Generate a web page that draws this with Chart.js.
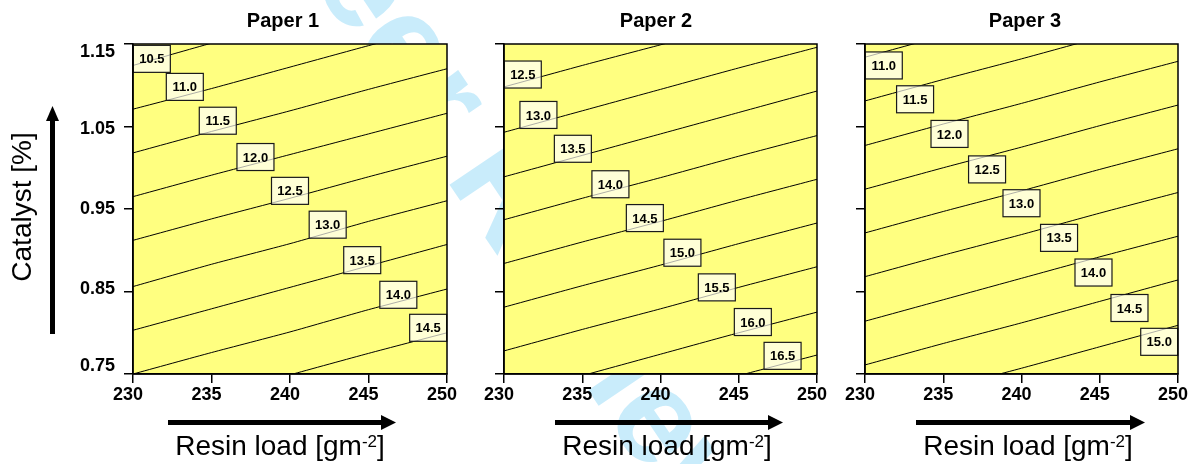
<!DOCTYPE html>
<html>
<head>
<meta charset="utf-8">
<title>Resin load / catalyst contours</title>
<script src="https://cdn.jsdelivr.net/npm/chart.js@4.4.1/dist/chart.umd.min.js"></script>
<style>
  body { margin: 0; background: #fff; }
  #page { position: relative; width: 1203px; height: 464px; overflow: hidden; }
  #watermark {
    position: absolute; left: 164px; top: -407px; height: 135px; line-height: 135px;
    font: bold 135px "Liberation Sans", Arial, sans-serif; color: #c9ecfb;
    white-space: nowrap; transform-origin: 0 50%; transform: rotate(56deg);
  }
  canvas { position: absolute; top: 0; }
</style>
</head>
<body>
<div id="page">
  <div id="watermark">For Peer Review</div>
  <canvas id="paper1" width="480" height="464" style="left:0"></canvas>
  <canvas id="paper2" width="390" height="464" style="left:455px"></canvas>
  <canvas id="paper3" width="383" height="464" style="left:820px"></canvas>
</div>
<script>
const FONT = '"Liberation Sans", Arial, sans-serif';

// axes
const resinLoad = [230, 235, 240, 245, 250];
const resinTicks = [230, 235, 240, 245, 250];
const catalystTicks = [0.75, 0.85, 0.95, 1.05, 1.15];

// Paper 1: contour levels, catalyst [%] along each contour at every resin load, label spots
const levels1 = [10.5, 11.0, 11.5, 12.0, 12.5, 13.0, 13.5, 14.0, 14.5];
const contours1 = [
  [1.124, 1.151, 1.176, 1.203, 1.229],
  [1.071, 1.096, 1.122, 1.148, 1.173],
  [1.018, 1.044, 1.069, 1.095, 1.120],
  [0.965, 0.991, 1.016, 1.041, 1.066],
  [0.912, 0.938, 0.963, 0.989, 1.014],
  [0.856, 0.883, 0.908, 0.935, 0.960],
  [0.803, 0.829, 0.855, 0.881, 0.907],
  [0.750, 0.776, 0.801, 0.828, 0.853],
  [0.698, 0.723, 0.749, 0.775, 0.800]
];
const labelX1 = [231.2, 233.3, 235.4, 237.8, 240.0, 242.4, 244.6, 246.9, 248.8];
const labelY1 = [1.132, 1.098, 1.057, 1.013, 0.972, 0.931, 0.888, 0.846, 0.806];

// Paper 2
const levels2 = [12.5, 13.0, 13.5, 14.0, 14.5, 15.0, 15.5, 16.0, 16.5];
const contours2 = [
  [1.098, 1.124, 1.149, 1.174, 1.198],
  [1.043, 1.069, 1.095, 1.121, 1.146],
  [0.989, 1.015, 1.041, 1.067, 1.093],
  [0.937, 0.963, 0.988, 1.014, 1.039],
  [0.884, 0.910, 0.935, 0.961, 0.986],
  [0.831, 0.857, 0.882, 0.908, 0.933],
  [0.778, 0.804, 0.829, 0.855, 0.880],
  [0.722, 0.748, 0.774, 0.800, 0.825],
  [0.671, 0.697, 0.722, 0.748, 0.773]
];
const labelX2 = [231.2, 232.2, 234.4, 236.8, 239.0, 241.4, 243.6, 245.9, 247.8];
const labelY2 = [1.113, 1.064, 1.023, 0.980, 0.939, 0.897, 0.855, 0.813, 0.772];

// Paper 3
const levels3 = [11.0, 11.5, 12.0, 12.5, 13.0, 13.5, 14.0, 14.5, 15.0];
const contours3 = [
  [1.134, 1.160, 1.185, 1.211, 1.237],
  [1.081, 1.107, 1.132, 1.158, 1.184],
  [1.027, 1.053, 1.078, 1.104, 1.129],
  [0.974, 1.000, 1.025, 1.051, 1.076],
  [0.921, 0.947, 0.972, 0.998, 1.023],
  [0.868, 0.894, 0.919, 0.945, 0.970],
  [0.814, 0.840, 0.866, 0.892, 0.917],
  [0.761, 0.787, 0.812, 0.838, 0.864],
  [0.706, 0.732, 0.757, 0.783, 0.809]
];
const labelX3 = [231.2, 233.2, 235.4, 237.8, 240.0, 242.4, 244.6, 246.9, 248.8];
const labelY3 = [1.124, 1.083, 1.041, 0.998, 0.957, 0.915, 0.873, 0.830, 0.789];

const panels = [
  { id: 'paper1', title: 'Paper 1', levels: levels1, contours: contours1, labelX: labelX1, labelY: labelY1,
    axisWidth: 133, padRight: 33, yLabels: true, titleX: 150, xTitleX: 147, arrowFrom: 35, arrowTo: 263 },
  { id: 'paper2', title: 'Paper 2', levels: levels2, contours: contours2, labelX: labelX2, labelY: labelY2,
    axisWidth: 49, padRight: 28, yLabels: false, titleX: 152, xTitleX: 163, arrowFrom: 51, arrowTo: 279 },
  { id: 'paper3', title: 'Paper 3', levels: levels3, contours: contours3, labelX: labelX3, labelY: labelY3,
    axisWidth: 45, padRight: 25, yLabels: false, titleX: 160, xTitleX: 163, arrowFrom: 51, arrowTo: 280 }
];

function drawResinTitle(ctx, cx, y) {
  const main = 'Resin load [gm', sup = '-2', end = ']';
  ctx.font = '28px ' + FONT;
  const w1 = ctx.measureText(main).width, w3 = ctx.measureText(end).width;
  ctx.font = '17px ' + FONT;
  const w2 = ctx.measureText(sup).width;
  let x = cx - (w1 + w2 + w3) / 2;
  ctx.textAlign = 'left';
  ctx.textBaseline = 'alphabetic';
  ctx.font = '28px ' + FONT;
  ctx.fillText(main, x, y);
  x += w1;
  ctx.font = '17px ' + FONT;
  ctx.fillText(sup, x, y - 8);
  x += w2;
  ctx.font = '28px ' + FONT;
  ctx.fillText(end, x, y);
}

function makeDecor(p) {
  return {
    id: 'decor_' + p.id,
    beforeDraw(chart) {
      const { ctx, chartArea: a } = chart;
      ctx.save();
      ctx.fillStyle = '#ffff80';
      ctx.fillRect(a.left, a.top, a.right - a.left, a.bottom - a.top);
      ctx.restore();
    },
    afterDatasetsDraw(chart) {
      const { ctx, chartArea: a, scales } = chart;
      // contour labels
      p.levels.forEach((lvl, i) => {
        const cx = scales.x.getPixelForValue(p.labelX[i]);
        const cy = scales.y.getPixelForValue(p.labelY[i]);
        const bx = cx - 18.5, by = cy - 13.5;
        ctx.save();
        ctx.beginPath();
        ctx.rect(bx, by, 37, 27);
        ctx.fillStyle = '#ffffd6';
        ctx.fill();
        ctx.clip();
        const pts = chart.getDatasetMeta(i).data;
        ctx.beginPath();
        pts.forEach((pt, j) => j ? ctx.lineTo(pt.x, pt.y) : ctx.moveTo(pt.x, pt.y));
        ctx.strokeStyle = '#9a9a9a';
        ctx.lineWidth = 0.8;
        ctx.stroke();
        ctx.restore();
        ctx.save();
        ctx.strokeStyle = '#1a1a1a';
        ctx.lineWidth = 1.2;
        ctx.strokeRect(bx, by, 37, 27);
        ctx.fillStyle = '#000';
        ctx.font = 'bold 13px ' + FONT;
        ctx.textAlign = 'center';
        ctx.textBaseline = 'middle';
        ctx.fillText(lvl.toFixed(1), cx, cy + 1);
        ctx.restore();
      });
      // frame round the plot
      ctx.save();
      ctx.strokeStyle = '#000';
      ctx.lineWidth = 1.5;
      ctx.strokeRect(a.left, a.top, a.right - a.left, a.bottom - a.top);
      ctx.restore();
    },
    afterDraw(chart) {
      const { ctx, chartArea: a, scales } = chart;
      ctx.save();
      ctx.fillStyle = '#000';
      // panel title
      ctx.font = 'bold 20px ' + FONT;
      ctx.textAlign = 'center';
      ctx.textBaseline = 'alphabetic';
      ctx.fillText(p.title, a.left + p.titleX, 27);
      // x arrow + title
      const x0 = a.left + p.arrowFrom, x1 = a.left + p.arrowTo;
      ctx.fillRect(x0, 420, x1 - x0 - 13, 5);
      ctx.beginPath();
      ctx.moveTo(x1 - 15, 415);
      ctx.lineTo(x1, 422.5);
      ctx.lineTo(x1 - 15, 430);
      ctx.closePath();
      ctx.fill();
      drawResinTitle(ctx, a.left + p.xTitleX, 455);
      if (p.yLabels) {
        // y tick labels (ends pulled inwards like the original)
        const nudge = [-8, -2, 0, 3, 8];
        ctx.font = 'bold 18px ' + FONT;
        ctx.textAlign = 'right';
        ctx.textBaseline = 'middle';
        catalystTicks.forEach((v, i) => {
          ctx.fillText(v.toFixed(2), a.left - 18, scales.y.getPixelForValue(v) + nudge[i]);
        });
        // y arrow
        const ax = a.left - 80.5;
        ctx.fillRect(ax - 2.5, 119, 5, 215);
        ctx.beginPath();
        ctx.moveTo(ax - 6.5, 121);
        ctx.lineTo(ax, 106);
        ctx.lineTo(ax + 6.5, 121);
        ctx.closePath();
        ctx.fill();
        // y title
        ctx.translate(31, 207);
        ctx.rotate(-Math.PI / 2);
        ctx.font = '28px ' + FONT;
        ctx.textAlign = 'center';
        ctx.textBaseline = 'alphabetic';
        ctx.fillText('Catalyst [%]', 0, 0);
      }
      ctx.restore();
    }
  };
}

panels.forEach(p => {
  new Chart(document.getElementById(p.id), {
    type: 'line',
    data: {
      datasets: p.contours.map((c, i) => ({
        label: p.levels[i].toFixed(1),
        data: resinLoad.map((x, j) => ({ x: x, y: c[j] })),
        borderColor: '#000',
        borderWidth: 1,
        pointRadius: 0,
        fill: false,
        tension: 0.2,
        clip: 0
      }))
    },
    options: {
      responsive: false,
      animation: false,
      devicePixelRatio: 1,
      events: [],
      layout: { padding: { top: 44, right: p.padRight, bottom: 0, left: 0 } },
      plugins: { legend: { display: false }, tooltip: { enabled: false }, title: { display: false } },
      scales: {
        x: {
          type: 'linear', min: 230, max: 250,
          afterBuildTicks: s => { s.ticks = resinTicks.map(v => ({ value: v })); },
          afterFit: s => { s.height = 90; s.paddingLeft = 0; s.paddingRight = 0; },
          grid: { drawOnChartArea: false, drawTicks: true, tickLength: 9, color: '#000', lineWidth: 1.5 },
          border: { display: true, color: '#000', width: 1.5 },
          ticks: { color: '#000', font: { family: FONT, size: 18, weight: 'bold' }, padding: 1,
                   labelOffset: -5, maxRotation: 0, autoSkip: false }
        },
        y: {
          type: 'linear', min: 0.75, max: 1.15,
          afterBuildTicks: s => { s.ticks = catalystTicks.map(v => ({ value: v })); },
          afterFit: s => { s.width = p.axisWidth; s.paddingTop = 0; s.paddingBottom = 0; },
          grid: { drawOnChartArea: false, drawTicks: true, tickLength: 9, color: '#000', lineWidth: 1.5 },
          border: { display: true, color: '#000', width: 1.5 },
          ticks: { display: false }
        }
      }
    },
    plugins: [makeDecor(p)]
  });
});
</script>
</body>
</html>
